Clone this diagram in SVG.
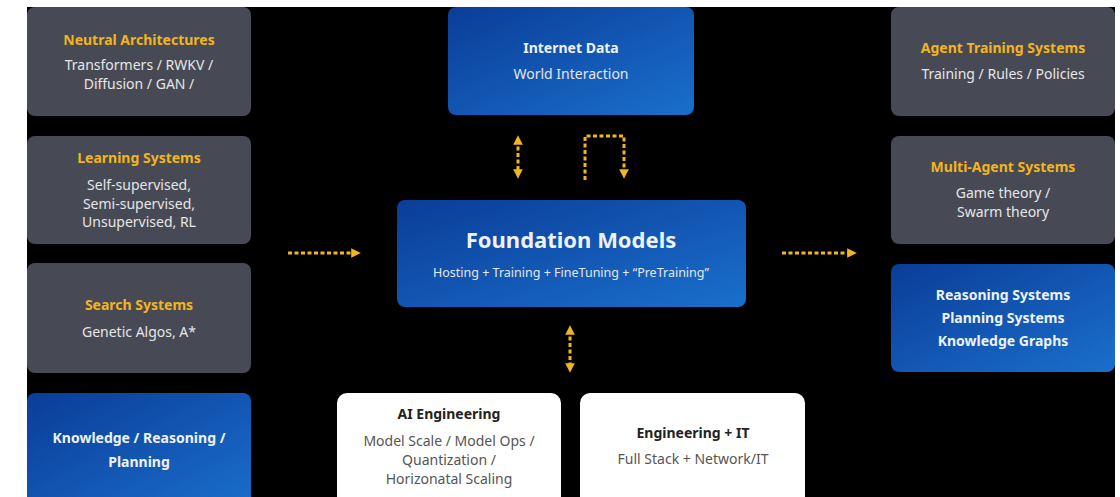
<svg xmlns="http://www.w3.org/2000/svg" width="1120" height="497" viewBox="0 0 1120 497">
<defs>
<linearGradient id="blue" x1="0" y1="0" x2="1" y2="1">
<stop offset="0" stop-color="#0a3d98"/>
<stop offset="1" stop-color="#1a6fcc"/>
</linearGradient>
<marker id="ah" viewBox="0 0 10 10" refX="5" refY="5" markerWidth="3.2" markerHeight="3.2" orient="auto-start-reverse">
<path d="M0,0 L10,5 L0,10 z" fill="#f2b51d"/>
</marker>
<style>
.gray{fill:#474a55}
.blue{fill:url(#blue)}
.white{fill:#ffffff}
text{font-family:"Noto Sans","Liberation Sans",sans-serif;text-anchor:middle}
.h{font-size:14px;font-weight:700;fill:#f2b51d}
.t{font-size:14px;fill:#e6e6e6}
.bw{font-size:14px;font-weight:700;fill:#eef2f8}
.hd{font-size:14px;font-weight:700;fill:#222}
.td{font-size:14px;fill:#555}
.conn{fill:none;stroke:#f2b51d;stroke-width:3;stroke-dasharray:4 2.5}
</style>
</defs>
<rect x="0" y="0" width="1120" height="497" fill="#ffffff"/>
<rect x="27" y="7" width="1088" height="490" fill="#000000"/>

<g id="neutral">
<rect class="gray" x="27" y="7" width="224" height="109" rx="8"/>
<text class="h" x="139" y="45">Neutral Architectures</text>
<text class="t" x="139" y="70">Transformers / RWKV /</text>
<text class="t" x="139" y="89">Diffusion / GAN /</text>
</g>
<g id="learning">
<rect class="gray" x="27" y="136" width="224" height="108" rx="8"/>
<text class="h" x="139" y="163">Learning Systems</text>
<text class="t" x="139" y="190">Self-supervised,</text>
<text class="t" x="139" y="209">Semi-supervised,</text>
<text class="t" x="139" y="227">Unsupervised, RL</text>
</g>
<g id="search">
<rect class="gray" x="27" y="263" width="224" height="110" rx="8"/>
<text class="h" x="139" y="310">Search Systems</text>
<text class="t" x="139" y="337">Genetic Algos, A*</text>
</g>
<g id="knowledge">
<rect class="blue" x="27" y="393" width="224" height="120" rx="8"/>
<text class="bw" x="139" y="443">Knowledge / Reasoning /</text>
<text class="bw" x="139" y="467">Planning</text>
</g>

<g id="internet">
<rect class="blue" x="448" y="7" width="246" height="108" rx="8"/>
<text class="bw" x="571" y="53">Internet Data</text>
<text class="t" x="571" y="79">World Interaction</text>
</g>
<g id="foundation">
<rect class="blue" x="397" y="200" width="349" height="107" rx="8"/>
<text class="bw" x="571" y="248" style="font-size:22px">Foundation Models</text>
<text class="t" x="571" y="277" style="font-size:12.5px">Hosting + Training + FineTuning + “PreTraining”</text>
</g>

<g id="agent">
<rect class="gray" x="891" y="7" width="224" height="109" rx="8"/>
<text class="h" x="1003" y="53">Agent Training Systems</text>
<text class="t" x="1003" y="79">Training / Rules / Policies</text>
</g>
<g id="multiagent">
<rect class="gray" x="891" y="136" width="224" height="108" rx="8"/>
<text class="h" x="1003" y="172">Multi-Agent Systems</text>
<text class="t" x="1003" y="198">Game theory /</text>
<text class="t" x="1003" y="217">Swarm theory</text>
</g>
<g id="reasoning">
<rect class="blue" x="891" y="264" width="224" height="108" rx="8"/>
<text class="bw" x="1003" y="300">Reasoning Systems</text>
<text class="bw" x="1003" y="323">Planning Systems</text>
<text class="bw" x="1003" y="346">Knowledge Graphs</text>
</g>

<g id="aieng">
<rect class="white" x="337" y="393" width="224" height="120" rx="10"/>
<text class="hd" x="449" y="419">AI Engineering</text>
<text class="td" x="449" y="446">Model Scale / Model Ops /</text>
<text class="td" x="449" y="465">Quantization /</text>
<text class="td" x="449" y="484">Horizonatal Scaling</text>
</g>
<g id="engit">
<rect class="white" x="580" y="393" width="225" height="120" rx="10"/>
<text class="hd" x="693" y="438">Engineering + IT</text>
<text class="td" x="693" y="464">Full Stack + Network/IT</text>
</g>

<g id="connectors">
<path class="conn" d="M288,253 L356,253" marker-end="url(#ah)"/>
<path class="conn" d="M782,253 L852,253" marker-end="url(#ah)"/>
<path class="conn" d="M518,140 L518,174" marker-start="url(#ah)" marker-end="url(#ah)"/>
<path class="conn" d="M585,180 L585,136 L624,136 L624,174" marker-end="url(#ah)"/>
<path class="conn" d="M570,330 L570,368" marker-start="url(#ah)" marker-end="url(#ah)"/>
</g>
</svg>
